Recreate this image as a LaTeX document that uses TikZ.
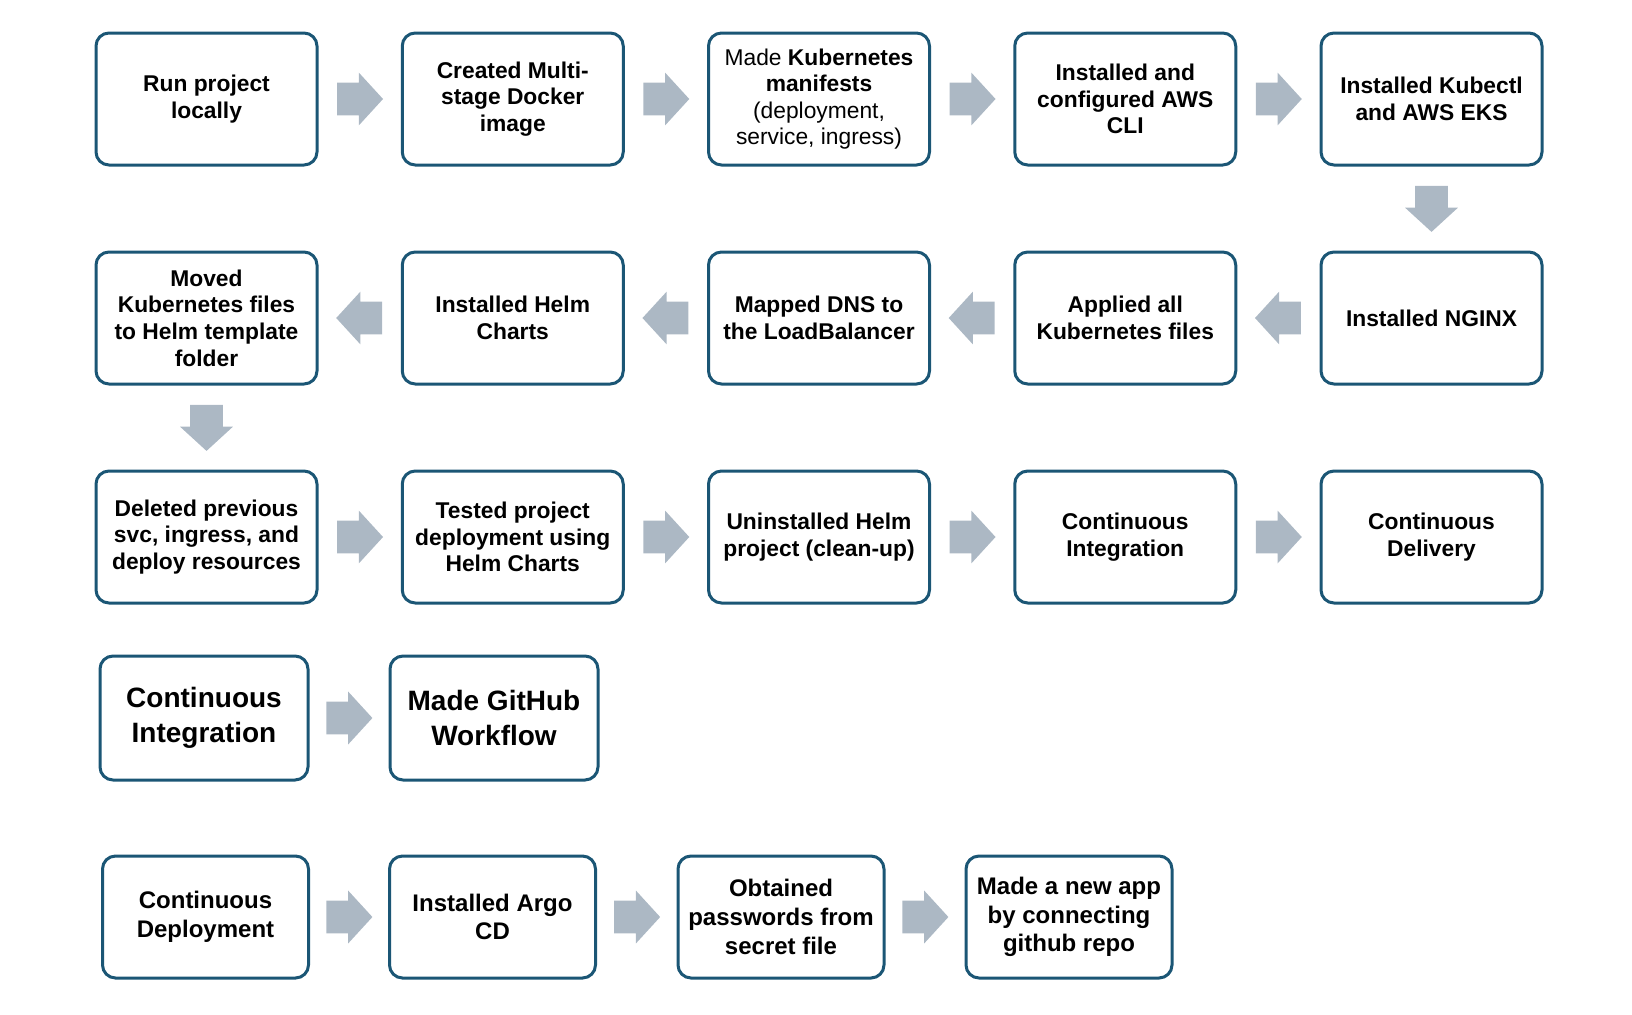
\documentclass[tikz,border=0pt]{standalone}
\usepackage{fontspec}
\setmainfont{Liberation Sans}
\usetikzlibrary{shapes.arrows,calc}
\definecolor{boxblue}{HTML}{1B5675}
\definecolor{arrowgray}{HTML}{ACB8C4}
\tikzset{
  flowbox/.style={rectangle, rounded corners=6.5pt, draw=boxblue, line width=1.5pt,
    fill=white, align=center, inner sep=2pt, font=\fontsize{11.4}{13.3}\selectfont\bfseries,
    minimum width=110.5pt, minimum height=66pt},
  bigbox/.style={flowbox, minimum width=104pt, minimum height=62pt,
    font=\fontsize{14}{17.3}\selectfont\bfseries},
  cdbox/.style={flowbox, minimum width=103pt, minimum height=61pt,
    font=\fontsize{12}{14.4}\selectfont\bfseries},
  blockarrow/.style={single arrow, fill=arrowgray, draw=none, inner xsep=0pt, inner ysep=8pt,
    minimum height=23pt, minimum width=26pt, single arrow head extend=5pt,
    single arrow tip angle=95, text height=0pt, text depth=0pt, anchor=tail},
}
\begin{document}
\begin{tikzpicture}[x=0.5pt,y=-0.5pt]
\useasboundingbox (0,0) rectangle (1632,1014);
% Row 1
\node[flowbox] (r1a) at (206.5,99) {Run project\\locally};
\node[flowbox] (r1b) at (512.75,99) {Created Multi-\\stage Docker\\image};
\node[flowbox] (r1c) at (819,99) {{\mdseries Made} Kubernetes\\manifests\\{\mdseries (deployment,}\\{\mdseries service, ingress)}};
\node[flowbox] (r1d) at (1125.25,99) {Installed and\\configured AWS\\CLI};
\node[flowbox] (r1e) at (1431.5,99) {Installed Kubectl\\and AWS EKS};
% Row 2
\node[flowbox] (r2a) at (206.5,318) {Moved\\Kubernetes files\\to Helm template\\folder};
\node[flowbox] (r2b) at (512.75,318) {Installed Helm\\Charts};
\node[flowbox] (r2c) at (819,318) {Mapped DNS to\\the LoadBalancer};
\node[flowbox] (r2d) at (1125.25,318) {Applied all\\Kubernetes files};
\node[flowbox] (r2e) at (1431.5,318) {Installed NGINX};
% Row 3
\node[flowbox] (r3a) at (206.5,537) {Deleted previous\\svc, ingress, and\\deploy resources};
\node[flowbox] (r3b) at (512.75,537) {Tested project\\deployment using\\Helm Charts};
\node[flowbox] (r3c) at (819,537) {Uninstalled Helm\\project (clean-up)};
\node[flowbox] (r3d) at (1125.25,537) {Continuous\\Integration};
\node[flowbox] (r3e) at (1431.5,537) {Continuous\\Delivery};
% Row 4
\node[bigbox] (r4a) at (204,718) {Continuous\\Integration};
\node[bigbox] (r4b) at (494,718) {Made GitHub\\Workflow};
% Row 5
\node[cdbox] (r5a) at (205.5,917) {Continuous\\Deployment};
\node[cdbox] (r5b) at (492.5,917) {Installed Argo\\CD};
\node[cdbox] (r5c) at (781,917) {Obtained\\passwords from\\secret file};
\node[cdbox] (r5d) at (1069,917) {Made a new app\\by connecting\\github repo};
% Arrows row 1
\foreach \a/\b in {r1a/r1b, r1b/r1c, r1c/r1d, r1d/r1e}
  \node[blockarrow] at ($(\a.east)!0.5!(\b.west)+(-23,0)$) {};
% Down arrow row1 -> row2
\node[blockarrow, rotate=-90] at ($(r1e.south)!0.5!(r2e.north)+(0,-23)$) {};
% Arrows row 2 (leftwards)
\foreach \a/\b in {r2e/r2d, r2d/r2c, r2c/r2b, r2b/r2a}
  \node[blockarrow, rotate=180] at ($(\a.west)!0.5!(\b.east)+(23,0)$) {};
% Down arrow row2 -> row3
\node[blockarrow, rotate=-90] at ($(r2a.south)!0.5!(r3a.north)+(0,-23)$) {};
% Arrows row 3
\foreach \a/\b in {r3a/r3b, r3b/r3c, r3c/r3d, r3d/r3e}
  \node[blockarrow] at ($(\a.east)!0.5!(\b.west)+(-23,0)$) {};
% Arrow row 4
\node[blockarrow] at ($(r4a.east)!0.5!(r4b.west)+(-23,0)$) {};
% Arrows row 5
\foreach \a/\b in {r5a/r5b, r5b/r5c, r5c/r5d}
  \node[blockarrow] at ($(\a.east)!0.5!(\b.west)+(-23,0)$) {};
\end{tikzpicture}
\end{document}
